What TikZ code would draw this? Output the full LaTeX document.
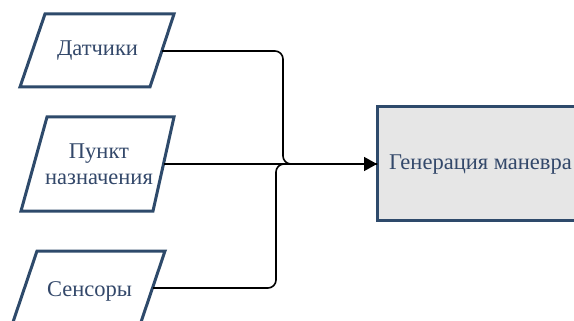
\documentclass[tikz,border=0pt]{standalone}
\usepackage{fontspec}
\setmainfont{Liberation Serif}
\usetikzlibrary{arrows.meta}
\definecolor{edgeblue}{HTML}{2E4A6B}
\definecolor{txtblue}{HTML}{33486A}
\definecolor{boxfill}{HTML}{E6E6E6}
\tikzset{
  shapeline/.style={draw=edgeblue, line width=3pt, line join=miter},
  lbl/.style={text=txtblue, font=\fontsize{22.5}{25.5}\selectfont, align=center, inner sep=0pt},
  conn/.style={draw=black, line width=1.6pt, rounded corners=8pt},
}
\begin{document}
\begin{tikzpicture}[x=1pt,y=-1pt]
\clip (0,0) rectangle (574,321);
\fill[white] (0,0) rectangle (574,321);
% input parallelograms
\draw[shapeline] (45,14) -- (174,14) -- (150,87) -- (20,87) -- cycle;
\node[lbl] (dat) at (97.5,51) {Датчики};
\coordinate (datE) at (162,51);
\draw[shapeline] (47,117) -- (174,117) -- (153,211) -- (21,211) -- cycle;
\node[lbl] (pun) at (99,164) {Пункт\\назначения};
\coordinate (punE) at (163.5,164);
\draw[shapeline] (37,251) -- (165,251) -- (140,325) -- (12,325) -- cycle;
\node[lbl] (sen) at (89.5,291) {Сенсоры};
\coordinate (senE) at (153,288);
% target box
\draw[shapeline, fill=boxfill] (377,107) rectangle (610,220);
\node[lbl, anchor=west] (gen) at (389,165) {Генерация маневра};
\coordinate (genW) at (377,164);
% connectors
\draw[conn] (datE) -| (283,164) -- (genW);
\draw[conn] (senE) -| (276,164) -- (genW);
\draw[conn, -{Triangle[length=13pt,width=14pt]}] (punE) -- (genW);
\end{tikzpicture}
\end{document}
